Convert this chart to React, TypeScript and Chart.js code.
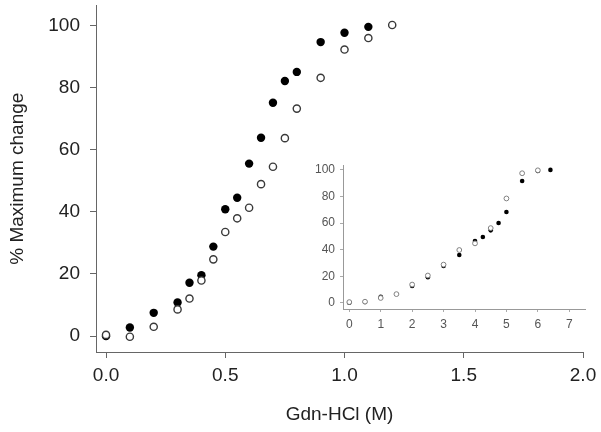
import React, { useEffect, useRef } from "react";
import { Chart, registerables } from "chart.js";

Chart.register(...registerables);

const FONT = "'Liberation Sans', Arial, Helvetica, sans-serif";

// Main chart data
const mainFilledX = [0, 0.1, 0.2, 0.3, 0.35, 0.4, 0.45, 0.5, 0.55, 0.6, 0.65, 0.7, 0.75, 0.8, 0.9, 1.0, 1.1];
const mainFilledY = [0, 2.8, 7.5, 10.8, 17.2, 19.6, 28.8, 40.8, 44.5, 55.5, 63.8, 75.1, 82.1, 85, 94.6, 97.6, 99.5];
const mainOpenX = [0, 0.1, 0.2, 0.3, 0.35, 0.4, 0.45, 0.5, 0.55, 0.6, 0.65, 0.7, 0.75, 0.8, 0.9, 1.0, 1.1, 1.2];
const mainOpenY = [0.4, -0.2, 3, 8.6, 12.1, 17.9, 24.7, 33.5, 37.9, 41.3, 48.9, 54.5, 63.7, 73.2, 83.1, 92.2, 95.9, 100.1];
const mainXTicks = [0, 0.5, 1.0, 1.5, 2.0];
const mainYTicks = [0, 20, 40, 60, 80, 100];

// Inset data
const insetOpenX = [0, 0.5, 1, 1.5, 2, 2.5, 3, 3.5, 4, 4.5, 5, 5.5, 6];
const insetOpenY = [0.5, 0.8, 3.6, 6.5, 13.7, 20.5, 28.7, 39.7, 44.7, 56.2, 78.5, 97.5, 99.7];
const insetFilledX = [0, 0.5, 1, 2, 2.5, 3, 3.5, 4, 4.25, 4.5, 4.75, 5, 5.5, 6, 6.4];
const insetFilledY = [0, 0.6, 4.5, 12.7, 19.2, 27.7, 36, 46.5, 49.5, 54.5, 60, 68.3, 91.7, 99.2, 100];
const insetXTicks = [0, 1, 2, 3, 4, 5, 6, 7];
const insetYTicks = [0, 20, 40, 60, 80, 100];

const toPts = (xs: number[], ys: number[]) => xs.map((x, i) => ({ x, y: ys[i] }));

export default function App() {
  const mainRef = useRef<HTMLCanvasElement>(null);
  const insetRef = useRef<HTMLCanvasElement>(null);

  useEffect(() => {
    const main = new Chart(mainRef.current!, {
      type: "scatter",
      data: {
        datasets: [
          {
            data: toPts(mainOpenX, mainOpenY),
            pointRadius: 3.6,
            pointBorderWidth: 1.4,
            pointBorderColor: "#3a3a3a",
            pointBackgroundColor: "#ffffff",
          },
          {
            data: toPts(mainFilledX, mainFilledY),
            pointRadius: 4.2,
            pointBorderWidth: 0,
            pointBorderColor: "#000",
            pointBackgroundColor: "#000000",
          },
        ],
      },
      options: {
        responsive: false,
        animation: false,
        events: [],
        layout: { padding: { left: 0, top: 3, right: 18, bottom: 0 } },
        plugins: { legend: { display: false }, tooltip: { enabled: false } },
        scales: {
          x: {
            type: "linear",
            min: -0.042,
            max: 2.0,
            afterFit: (s: any) => { s.height = 80; s.paddingLeft = 0; s.paddingRight = 0; },
            afterBuildTicks: (s: any) => { s.ticks = mainXTicks.map((v) => ({ value: v })); },
            grid: { display: true, drawOnChartArea: false, drawTicks: true, tickLength: 6, color: "#666" },
            border: { display: true, color: "#666", width: 1 },
            ticks: {
              autoSkip: false,
              maxRotation: 0,
              padding: 6,
              color: "#222",
              font: { family: FONT, size: 19 },
              callback: (v: any) => Number(v).toFixed(1),
            },
            title: {
              display: true,
              text: "Gdn-HCl (M)",
              color: "#222",
              font: { family: FONT, size: 19 },
              padding: { top: 0, bottom: 6 },
            },
          },
          y: {
            type: "linear",
            min: -5.1,
            max: 106.4,
            afterFit: (s: any) => { s.width = 96; s.paddingTop = 0; s.paddingBottom = 0; },
            afterBuildTicks: (s: any) => { s.ticks = mainYTicks.map((v) => ({ value: v })); },
            grid: { display: true, drawOnChartArea: false, drawTicks: true, tickLength: 6, color: "#666" },
            border: { display: true, color: "#666", width: 1 },
            ticks: {
              autoSkip: false,
              padding: 10,
              color: "#222",
              font: { family: FONT, size: 19 },
              callback: (v: any) => String(v),
            },
            title: {
              display: true,
              text: "% Maximum change",
              color: "#222",
              font: { family: FONT, size: 19 },
              padding: { top: 6, bottom: 0 },
            },
          },
        },
      },
    } as any);

    const inset = new Chart(insetRef.current!, {
      type: "scatter",
      data: {
        datasets: [
          {
            data: toPts(insetOpenX, insetOpenY),
            pointRadius: 2.4,
            pointBorderWidth: 1,
            pointBorderColor: "#808080",
            pointBackgroundColor: "#ffffff",
          },
          {
            data: toPts(insetFilledX, insetFilledY),
            pointRadius: 2.3,
            pointBorderWidth: 0,
            pointBorderColor: "#000",
            pointBackgroundColor: "#000000",
          },
        ],
      },
      options: {
        responsive: false,
        animation: false,
        events: [],
        layout: { padding: { left: 0, top: 15, right: 16, bottom: 0 } },
        plugins: { legend: { display: false }, tooltip: { enabled: false } },
        scales: {
          x: {
            type: "linear",
            min: -0.2,
            max: 7.5,
            afterFit: (s: any) => { s.height = 41; s.paddingLeft = 0; s.paddingRight = 0; },
            afterBuildTicks: (s: any) => { s.ticks = insetXTicks.map((v) => ({ value: v })); },
            grid: { display: true, drawOnChartArea: false, drawTicks: true, tickLength: 3, color: "#aaa" },
            border: { display: true, color: "#999", width: 1 },
            ticks: {
              autoSkip: false,
              maxRotation: 0,
              padding: 5,
              color: "#555",
              font: { family: FONT, size: 12 },
              callback: (v: any) => String(v),
            },
          },
          y: {
            type: "linear",
            min: -4.7,
            max: 103.7,
            afterFit: (s: any) => { s.width = 53; s.paddingTop = 0; s.paddingBottom = 0; },
            afterBuildTicks: (s: any) => { s.ticks = insetYTicks.map((v) => ({ value: v })); },
            grid: { display: true, drawOnChartArea: false, drawTicks: true, tickLength: 3, color: "#aaa" },
            border: { display: true, color: "#999", width: 1 },
            ticks: {
              autoSkip: false,
              padding: 5,
              color: "#555",
              font: { family: FONT, size: 12 },
              callback: (v: any) => String(v),
            },
          },
        },
      },
    } as any);

    return () => {
      main.destroy();
      inset.destroy();
    };
  }, []);

  return (
    <div style={{ position: "absolute", left: 0, top: 0, width: 601, height: 432, background: "#fff" }}>
      <canvas ref={mainRef} width={601} height={432} style={{ position: "absolute", left: 0, top: 0 }} />
      <canvas ref={insetRef} width={311} height={200} style={{ position: "absolute", left: 290, top: 150 }} />
    </div>
  );
}
